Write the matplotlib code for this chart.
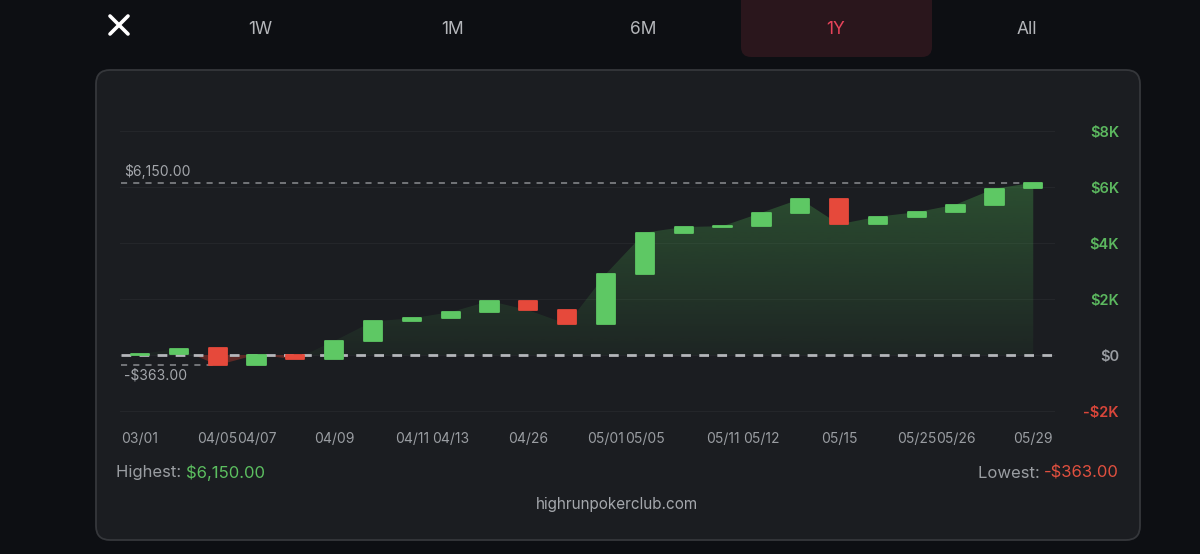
import numpy as np
import matplotlib.pyplot as plt
from matplotlib.patches import FancyBboxPatch
from matplotlib.path import Path

plt.rcParams['font.family'] = ['Inter', 'DejaVu Sans']

# daily candles (open / close of running profit, $)
date_labels = ['03/01', '', '04/05', '04/07', '', '04/09', '', '04/11', '04/13', '',
               '04/26', '', '05/01', '05/05', '', '05/11', '05/12', '', '05/15', '',
               '05/25', '05/26', '', '05/29']
opens = [0, 30, 250, -363, 10, -150, 500, 1200, 1320, 1530, 1930, 1600,
         1100, 2900, 4370, 4570, 4600, 5080, 5570, 4670, 4940, 5100, 5370, 5950]
closes = [30, 230, -363, 10, -150, 500, 1200, 1310, 1530, 1930, 1600, 1100,
          2900, 4370, 4570, 4600, 5080, 5570, 4670, 4940, 5100, 5370, 5940, 6150]
y_ticks = [-2000, 0, 2000, 4000, 6000, 8000]
y_tick_labels = ['-$2K', '$0', '$2K', '$4K', '$6K', '$8K']
tabs = ['1W', '1M', '6M', '1Y', 'All']
highest = 6150.00
lowest = -363.00

BG = '#0d0f13'
CARD = '#1b1d21'
GREEN = '#5ec864'
RED = '#e6493b'
GRAY = '#9a9da2'

W, H = 1200, 554
fig = plt.figure(figsize=(12, 5.54), dpi=100, facecolor=BG)

# background layer in pixel coordinates
bg = fig.add_axes([0, 0, 1, 1])
bg.set_xlim(0, W)
bg.set_ylim(H, 0)
bg.axis('off')

bg.add_patch(FancyBboxPatch((96, 70), 1044, 470,
                            boxstyle='round,pad=0,rounding_size=14',
                            facecolor=CARD, edgecolor='#35373b', lw=1.3))

# tab bar
bg.plot([110, 128], [16, 34], color='white', lw=2.6, solid_capstyle='round')
bg.plot([110, 128], [34, 16], color='white', lw=2.6, solid_capstyle='round')
tab_x = [260, 452, 643, 836, 1027]
bg.add_patch(FancyBboxPatch((741, -14), 191, 71,
                            boxstyle='round,pad=0,rounding_size=10',
                            facecolor='#2a161c', edgecolor='none'))
for t, x in zip(tabs, tab_x):
    c = '#e8435a' if t == '1Y' else '#b4b6ba'
    bg.text(x, 29, t, color=c, fontsize=12.5, ha='center', va='center')

# footer
t1 = bg.text(116, 473, 'Highest: ', color=GRAY, fontsize=12, ha='left', va='center')
fig.canvas.draw()
bb = t1.get_window_extent()
bg.text(bb.x1, 473, f'${highest:,.2f}', color='#5cbf60', fontsize=12,
        ha='left', va='center')
t2 = bg.text(1119, 473, f'-${abs(lowest):,.2f}', color='#e0503f', fontsize=12,
             ha='right', va='center')
bb2 = t2.get_window_extent(renderer=fig.canvas.get_renderer())
bg.text(bb2.x0, 473, 'Lowest: ', color=GRAY, fontsize=12, ha='right', va='center')
bg.text(617, 505, 'highrunpokerclub.com', color='#a4a7ac', fontsize=11,
        ha='center', va='center')

# main chart axes
px_top, px_bot = 119.8, 422.2
ax = fig.add_axes([120 / W, 1 - px_bot / H, 935 / W, (px_bot - px_top) / H])
ax.set_facecolor('none')
x = np.arange(len(closes))
for s in ax.spines.values():
    s.set_visible(False)

for v in y_ticks:
    ax.axhline(v, color='#24262a', lw=0.8, zorder=0)

closes_a = np.array(closes, dtype=float)
pos = ax.fill_between(x, closes_a, 0, where=closes_a >= 0, interpolate=True,
                      facecolor='none', edgecolor='none')
ax.fill_between(x, closes_a, 0, where=closes_a <= 0, interpolate=True,
                facecolor='#6a2a26', edgecolor='none', alpha=0.85, zorder=1)

# green gradient clipped to the positive area
grad = np.zeros((256, 1, 4))
grad[:, 0, 0] = 76 / 255
grad[:, 0, 1] = 175 / 255
grad[:, 0, 2] = 80 / 255
grad[:, 0, 3] = np.linspace(0.34, 0.06, 256)
im = ax.imshow(grad, extent=(0, len(closes) - 1, 0, max(closes)),
               origin='upper', aspect='auto', zorder=1, interpolation='bilinear')
clip = Path.make_compound_path(*pos.get_paths())
im.set_clip_path(clip, transform=ax.transData)
ax.set_xlim(-0.515, 23.56)
ax.set_ylim(-2400, 8400)

# reference lines
i_max = int(np.argmax(closes))
i_min = int(np.argmin(closes))
ax.plot([-0.48, i_max - 0.25], [highest, highest], color='#8a8c90', lw=1.1,
        dashes=(4, 4), zorder=2)
ax.plot([-0.5, 23.5], [0, 0], color='#b4b6ba', lw=2.0, dashes=(3.5, 3), zorder=2)
ax.plot([-0.48, i_min], [lowest, lowest], color='#8a8c90', lw=1.1,
        dashes=(4, 4), zorder=2)
ax.text(-0.41, highest + 120, f'${highest:,.2f}', color='#a4a7ac', fontsize=10,
        ha='left', va='bottom')
ax.text(-0.41, lowest - 110, f'-${abs(lowest):,.2f}', color='#a4a7ac', fontsize=10,
        ha='left', va='top')

# candles
o = np.array(opens, dtype=float)
colors = [GREEN if c >= op else RED for op, c in zip(opens, closes)]
ax.bar(x, closes_a - o, bottom=o, width=0.47, color=colors, edgecolor=colors,
       linewidth=1.3, joinstyle='round', zorder=3)

# axes ticks
ax.set_xticks(x)
ax.set_xticklabels(date_labels, color='#9a9da2', fontsize=10)
ax.tick_params(axis='x', length=0, pad=7)
ax.yaxis.tick_right()
ax.set_yticks(y_ticks)
ax.set_yticklabels(y_tick_labels, fontsize=10.5, fontweight='semibold')
ax.tick_params(axis='y', length=0, pad=46)
for lab, v in zip(ax.get_yticklabels(), y_ticks):
    lab.set_horizontalalignment('right')
    lab.set_color('#5cb85f' if v > 0 else ('#9a9da2' if v == 0 else '#d9463a'))

fig.savefig('out.png', dpi=100, facecolor=BG)
